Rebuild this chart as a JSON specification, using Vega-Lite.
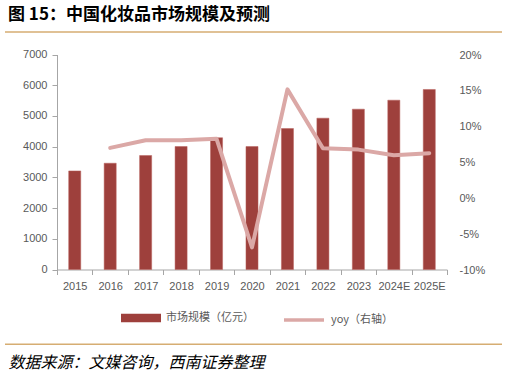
{
  "$schema": "https://vega.github.io/schema/vega-lite/v6.json",
  "width": 497,
  "height": 314,
  "autosize": {"type": "none"},
  "padding": {"left": 5, "top": 31, "right": 5, "bottom": 32},
  "background": "white",
  "title": {
    "text": "图 15：中国化妆品市场规模及预测",
    "anchor": "start",
    "frame": "group",
    "font": "Noto Sans CJK SC",
    "fontSize": 17,
    "fontWeight": "bold",
    "color": "#000000",
    "offset": 7,
    "dx": 3
  },
  "config": {
    "view": {"stroke": null},
    "axis": {"labelFont": "Liberation Sans", "labelFontSize": 11, "labelColor": "#595959", "grid": false}
  },
  "datasets": {
    "main": [
      {"year": "2015", "market": 3210, "yoy": null, "s1": "市场规模（亿元）", "s2": "yoy（右轴）"},
      {"year": "2016", "market": 3460, "yoy": 0.0704, "s1": "市场规模（亿元）", "s2": "yoy（右轴）"},
      {"year": "2017", "market": 3712, "yoy": 0.081, "s1": "市场规模（亿元）", "s2": "yoy（右轴）"},
      {"year": "2018", "market": 4005, "yoy": 0.081, "s1": "市场规模（亿元）", "s2": "yoy（右轴）"},
      {"year": "2019", "market": 4290, "yoy": 0.083, "s1": "市场规模（亿元）", "s2": "yoy（右轴）"},
      {"year": "2020", "market": 4005, "yoy": -0.0685, "s1": "市场规模（亿元）", "s2": "yoy（右轴）"},
      {"year": "2021", "market": 4591, "yoy": 0.152, "s1": "市场规模（亿元）", "s2": "yoy（右轴）"},
      {"year": "2022", "market": 4927, "yoy": 0.07, "s1": "市场规模（亿元）", "s2": "yoy（右轴）"},
      {"year": "2023", "market": 5220, "yoy": 0.068, "s1": "市场规模（亿元）", "s2": "yoy（右轴）"},
      {"year": "2024E", "market": 5513, "yoy": 0.06, "s1": "市场规模（亿元）", "s2": "yoy（右轴）"},
      {"year": "2025E", "market": 5861, "yoy": 0.063, "s1": "市场规模（亿元）", "s2": "yoy（右轴）"}
    ],
    "edges": [{"pos": 0, "a": 0, "b": 1}, {"pos": 1, "a": 0, "b": 1}]
  },
  "layer": [
    {
      "data": {"name": "main"},
      "mark": {"type": "bar", "width": {"band": 0.34}, "stroke": "#b8605c", "strokeWidth": 0.5},
      "encoding": {
        "x": {
          "field": "year", "type": "nominal", "sort": null,
          "scale": {"range": [52, 442], "paddingInner": 0, "paddingOuter": 0},
          "axis": {
            "title": "数据来源：文媒咨询，西南证券整理",
            "titleFont": "Noto Sans CJK SC",
            "titleFontSize": 16,
            "titleFontStyle": "italic",
            "titleFontWeight": "normal",
            "titleColor": "#000000",
            "titleX": 3,
            "titleY": 92.5,
            "titleAlign": "left",
            "titleAnchor": "start",
            "titleBaseline": "middle",
            "offset": -75.5,
            "labelAngle": 0,
            "labelPadding": 6,
            "tickSize": 5,
            "tickColor": "#a6a6a6",
            "domainColor": "#a6a6a6",
            "tickBand": "extent"
          }
        },
        "y": {
          "field": "market", "type": "quantitative",
          "scale": {"domain": [0, 7000], "range": [238.5, 23.5], "nice": false},
          "axis": {
            "title": null, "values": [0, 1000, 2000, 3000, 4000, 5000, 6000, 7000], "format": "d",
            "offset": -52, "tickSize": 5, "labelPadding": 5,
            "tickColor": "#a6a6a6", "domainColor": "#a6a6a6"
          }
        },
        "color": {
          "field": "s1", "type": "nominal",
          "scale": {"domain": ["市场规模（亿元）"], "range": ["#9e403c"]},
          "legend": {
            "orient": "none", "legendX": 116, "legendY": 267, "title": null,
            "labelFont": "Noto Sans CJK SC", "labelFontSize": 11, "labelColor": "#595959",
            "labelOffset": 5, "symbolSize": 1600, "symbolType": "M-1,-0.21H1V0.21H-1Z",
            "symbolStrokeWidth": 0, "symbolOpacity": 1
          }
        }
      }
    },
    {
      "data": {"name": "main"},
      "mark": {"type": "line", "strokeWidth": 4, "strokeJoin": "round", "strokeCap": "round"},
      "encoding": {
        "x": {
          "field": "year", "type": "nominal", "sort": null,
          "scale": {"range": [52, 442], "paddingInner": 0, "paddingOuter": 0},
          "axis": null
        },
        "y": {
          "field": "yoy", "type": "quantitative",
          "scale": {"domain": [-0.1, 0.2], "range": [239, 24], "nice": false},
          "axis": {
            "title": null, "orient": "right", "values": [-0.1, -0.05, 0, 0.05, 0.1, 0.15, 0.2],
            "labelExpr": "replace(format(datum.value, '.0%'), '−', '-')",
            "offset": -55, "domain": false, "ticks": false, "labelPadding": 12
          }
        },
        "stroke": {
          "field": "s2", "type": "nominal",
          "scale": {"domain": ["yoy（右轴）"], "range": ["#dba8a6"]},
          "legend": {
            "orient": "none", "legendX": 277, "legendY": 267, "title": null,
            "labelFont": "Noto Sans CJK SC", "labelFontSize": 11, "labelColor": "#595959",
            "labelOffset": 5, "symbolSize": 1600, "symbolType": "stroke",
            "symbolStrokeWidth": 3.5
          }
        }
      }
    },
    {
      "data": {"name": "edges"},
      "mark": {"type": "rule", "stroke": "#d6ad72", "strokeWidth": 1.6, "clip": false},
      "encoding": {
        "x": {"field": "a", "type": "quantitative", "scale": {"domain": [0, 1], "range": [0, 497]}, "axis": null},
        "x2": {"field": "b"},
        "y": {"field": "pos", "type": "quantitative", "scale": {"domain": [0, 1], "range": [1, 313.2]}, "axis": null}
      }
    }
  ],
  "resolve": {"scale": {"y": "independent", "x": "independent", "color": "independent", "stroke": "independent"}}
}
